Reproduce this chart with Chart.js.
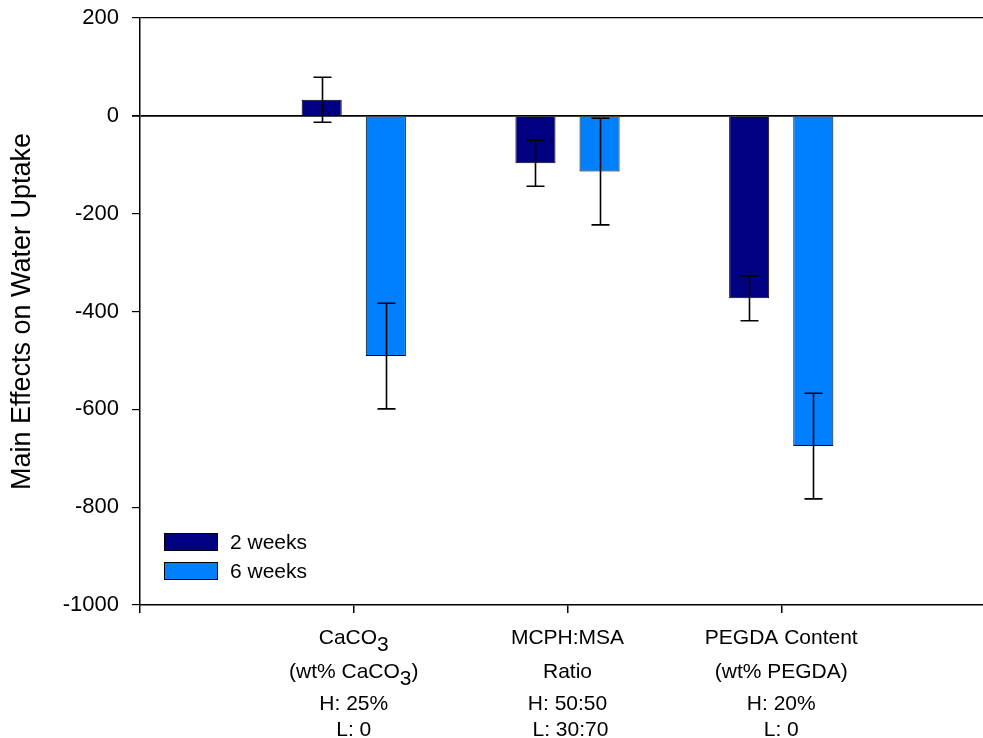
<!doctype html>
<html lang="en">
<head>
  <meta charset="utf-8">
  <title>Main Effects on Water Uptake</title>
  <style>
    html, body { margin: 0; padding: 0; overflow: hidden; background: #fff; }
    #wrap { position: relative; width: 1000px; height: 738px; }
  </style>
</head>
<body>
  <div id="wrap"><canvas id="effects-chart"></canvas></div>

  <script src="https://cdn.jsdelivr.net/npm/chart.js"></script>
  <script>
    // factor labels, one array of lines per factor; {x} marks a subscript
    const factors = [
      ['CaCO{3}', '(wt% CaCO{3})', 'H: 25%', 'L: 0'],
      ['MCPH:MSA', 'Ratio', 'H: 50:50', ' L: 30:70'],
      ['PEGDA Content', '(wt% PEGDA)', 'H: 20%', 'L: 0']
    ];
    const seriesNames = ['2 weeks', '6 weeks'];
    const week2 = [33, -97, -373];
    const week6 = [-491, -114, -675];
    const week2Err = [46, 47, 46];
    const week6Err = [108, 109, 108];
    const yTicks = [200, 0, -200, -400, -600, -800, -1000];

    // empty slot on each side so the factors sit at 1,2,3 of 0..4
    const pad = arr => [null].concat(arr, [null]);
    const labels = pad(factors);
    labels[0] = '';
    labels[4] = '';

    const colors = ['#000080', '#0080ff'];
    const FONT = '"Liberation Sans", Arial, sans-serif';

    const errorBars = {
      id: 'errorBars',
      afterDatasetsDraw(chart) {
        const ctx = chart.ctx;
        const y = chart.scales.y;
        ctx.save();
        ctx.strokeStyle = '#000';
        ctx.lineWidth = 1.6;
        chart.data.datasets.forEach((ds, di) => {
          const meta = chart.getDatasetMeta(di);
          ds.data.forEach((v, i) => {
            if (v === null) return;
            const e = ds.errors[i];
            const x = Math.round(meta.data[i].x) + 0.5;
            const top = y.getPixelForValue(v + e);
            const bot = y.getPixelForValue(v - e);
            ctx.beginPath();
            ctx.moveTo(x, top); ctx.lineTo(x, bot);
            ctx.moveTo(x - 9, top); ctx.lineTo(x + 9, top);
            ctx.moveTo(x - 9, bot); ctx.lineTo(x + 9, bot);
            ctx.stroke();
          });
        });
        ctx.restore();
      }
    };

    // category labels with real subscripts
    const factorLabels = {
      id: 'factorLabels',
      afterDraw(chart) {
        const ctx = chart.ctx;
        const xs = chart.scales.x;
        const lineY = [39, 73, 105, 131];
        ctx.save();
        ctx.fillStyle = '#000';
        ctx.textBaseline = 'alphabetic';
        chart.data.labels.forEach((lab, i) => {
          if (!Array.isArray(lab)) return;
          const cx = xs.getPixelForValue(i);
          lab.forEach((line, li) => {
            const parts = line.split(/(\{[^}]*\})/).filter(p => p !== '').map(p => {
              const sub = p[0] === '{';
              return { t: sub ? p.slice(1, -1) : p, sub: sub };
            });
            ctx.font = '21px ' + FONT;
            let w = 0;
            parts.forEach(p => { p.w = ctx.measureText(p.t).width; w += p.w; });
            let x = cx - w / 2;
            const base = xs.top + lineY[li];
            parts.forEach(p => {
              ctx.fillText(p.t, x, base + (p.sub ? 7 : 0));
              x += p.w;
            });
          });
        });
        ctx.restore();
      }
    };

    const insideLegend = {
      id: 'insideLegend',
      afterDraw(chart) {
        const ctx = chart.ctx;
        const a = chart.chartArea;
        ctx.save();
        ctx.font = '21px ' + FONT;
        ctx.textBaseline = 'middle';
        chart.data.datasets.forEach((ds, i) => {
          const bx = a.left + 24;
          const by = a.bottom - 72 + i * 29;
          ctx.fillStyle = ds.backgroundColor;
          ctx.fillRect(bx, by, 54, 18);
          ctx.strokeStyle = '#000';
          ctx.lineWidth = 1;
          ctx.strokeRect(bx + 0.5, by + 0.5, 53, 17);
          ctx.fillStyle = '#000';
          ctx.fillText(ds.label, bx + 66, by + 10);
        });
        ctx.restore();
      }
    };

    Chart.defaults.font.family = FONT;
    Chart.defaults.color = '#000';

    new Chart(document.getElementById('effects-chart'), {
      type: 'bar',
      data: {
        labels: labels,
        datasets: [
          {
            label: seriesNames[0],
            data: pad(week2),
            errors: pad(week2Err),
            backgroundColor: colors[0],
            borderColor: '#000',
            borderWidth: 1
          },
          {
            label: seriesNames[1],
            data: pad(week6),
            errors: pad(week6Err),
            backgroundColor: colors[1],
            borderColor: '#000',
            borderWidth: 1
          }
        ]
      },
      options: {
        responsive: true,
        maintainAspectRatio: false,
        animation: false,
        datasets: {
          bar: { categoryPercentage: 0.6, barPercentage: 0.625 }
        },
        layout: {
          padding: { top: 18, right: 5, left: 0, bottom: 0 }
        },
        scales: {
          x: {
            offset: false,
            grid: {
              offset: false,
              drawOnChartArea: false,
              tickLength: 8,
              tickColor: '#000',
              lineWidth: 1.5
            },
            border: { color: '#000', width: 1.5 },
            ticks: { display: false, autoSkip: false },
            afterFit: s => { s.height = 133; }
          },
          y: {
            min: -1000,
            max: 200,
            afterBuildTicks: s => { s.ticks = yTicks.map(v => ({ value: v })); },
            grid: {
              color: c => (c.tick && (c.tick.value === 0 || c.tick.value === 200)) ? '#000' : 'rgba(0,0,0,0)',
              lineWidth: c => (c.tick && c.tick.value === 0) ? 1.8 : 1.2,
              tickColor: '#000',
              tickLength: 8
            },
            border: { color: '#000', width: 1.5 },
            ticks: {
              padding: 13,
              font: { size: 22 },
              callback: v => String(v)
            },
            title: {
              display: true,
              text: 'Main Effects on Water Uptake',
              font: { size: 27 },
              padding: { top: 6, bottom: 0 }
            },
            afterFit: s => {
              s.width = 140;
              s.paddingTop = 0;
              s.paddingBottom = 0;
            }
          }
        },
        plugins: {
          legend: { display: false },
          tooltip: { enabled: false }
        }
      },
      plugins: [errorBars, factorLabels, insideLegend]
    });
  </script>
</body>
</html>
